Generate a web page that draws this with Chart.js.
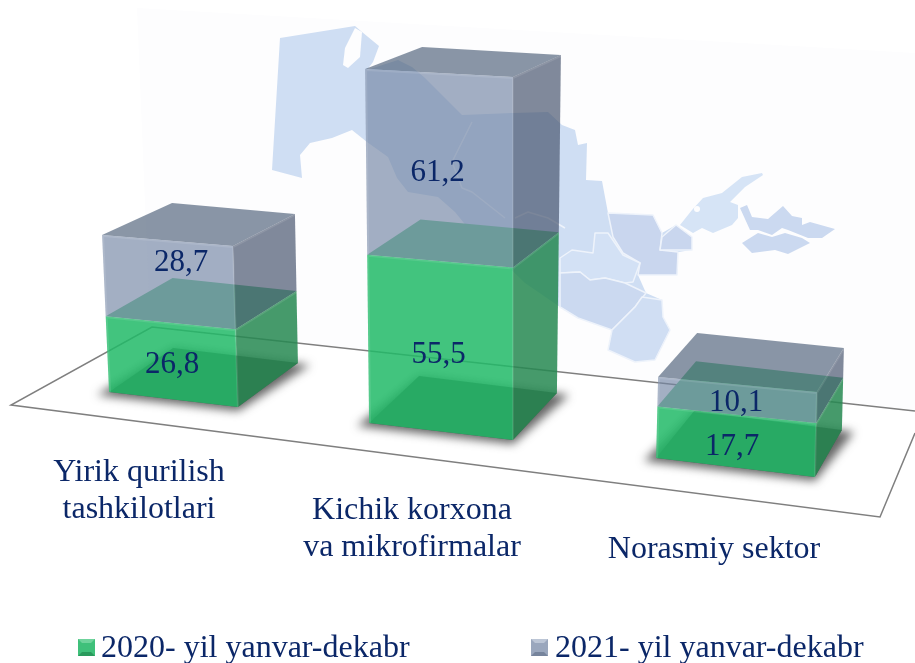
<!DOCTYPE html>
<html>
<head>
<meta charset="utf-8">
<title>Chart</title>
<script src="https://cdn.jsdelivr.net/npm/chart.js@4/dist/chart.umd.min.js"></script>
<style>
    html, body { margin: 0; padding: 0; background: #fff; }
    #wrap { position: relative; width: 915px; height: 663px; }
</style>
</head>
<body>
<div id="wrap"><canvas id="barChart"></canvas></div>
<script>
// DATA
let categories = [['Yirik qurilish', 'tashkilotlari'], ['Kichik korxona', 'va mikrofirmalar'], ['Norasmiy sektor']];
let series2020 = [26.8, 55.5, 17.7];
let series2021 = [28.7, 61.2, 10.1];
let seriesNames = ['2020- yil yanvar-dekabr', '2021- yil yanvar-dekabr'];
let valueLabels = [['26,8', '55,5', '17,7'], ['28,7', '61,2', '10,1']];

// perspective of each box, applied on top of what the scales give
let views = [
    { dx: 8.5, dy: -48, zoom: 0.896, k: 0.943, leanL: 0.042, leanR: 0.03, tilt: 15, tiltK: -0.024, depX: 60, depXk: 0.012, depXL: 64, depXLk: 0.036, depY: -44, depYk: 0.072 },
    { dx: -6, dy: -17, zoom: 1, k: 1.011, leanL: 0.0114, leanR: 0, tilt: 17, tiltK: -0.0257, depX: 44, depXk: 0.0114, depXL: 50, depXLk: 0.02, depY: -47, depYk: 0.0714 },
    { dx: 6.5, dy: 18, zoom: 1.104, k: 0.971, leanL: -0.024, leanR: -0.024, tilt: 19, tiltK: -0.048, depX: 27, depXk: 0, depXL: 38, depXLk: 0.012, depY: -47, depYk: 0.036 }
];
let labelOffsets = [[[0, 4], [-2, 9], [-4, 6]], [[12, -19], [-2, 6], [-1, 3]]];

let greenFaces = { front: 'rgba(33,186,103,0.85)', side: 'rgba(38,136,81,0.85)', top: 'rgb(98,196,138)' };
let blueFaces = { front: 'rgba(116,134,164,0.66)', side: 'rgba(63,78,103,0.66)', top: 'rgba(78,96,120,0.66)' };
let textColor = '#0b2768';
let serif = '"Liberation Serif", serif';

// background map (decoration only)
let paper = '#fdfdfe';
let mapOutline = [280,38, 355,26, 362,32, 379,46, 373,62, 367,70, 398,60, 412,67, 425,78, 462,115, 512,113, 548,112, 562,125, 575,130, 578,145, 587,143,
    586,180, 602,181, 608,213, 653,215, 658,227, 662,233, 676,225, 692,237, 692,250, 678,252, 677,275, 638,275, 646,293, 662,300, 663,317, 670,330, 655,360,
    635,362, 608,350, 612,330, 578,318, 560,307, 525,283, 468,228, 455,212, 438,197, 408,192, 397,178, 388,157, 367,142, 352,130, 332,138, 310,143, 300,155,
    302,178, 272,170];
let aralGap = [355,28, 345,48, 343,65, 348,68, 360,57, 362,32];
let mapEast = [608,213, 653,215, 662,233, 660,250, 678,252, 677,275, 638,275, 640,263, 623,253, 613,237];
let mapPocket = [662,237, 676,225, 692,237, 692,250, 660,250];
let mapJizzakh = [560,258, 572,250, 593,253, 595,233, 608,233, 623,255, 640,263, 633,282, 625,283, 605,278, 590,280, 580,272, 560,273];
let mapSouth = [560,273, 580,272, 590,280, 605,278, 625,283, 646,293, 635,307, 612,330, 578,318, 560,307];
let mapSurkhan = [642,297, 662,300, 663,317, 670,330, 655,360, 635,362, 608,350, 612,330, 635,307];
let ferganaTop = [680,225, 692,210, 703,198, 722,193, 742,177, 762,173, 763,175, 745,187, 730,202, 738,205, 738,218, 732,225, 713,233, 702,228, 693,233];
let ferganaRight = [740,208, 747,205, 752,217, 768,219, 783,206, 792,216, 802,218, 802,225, 810,222, 835,229, 822,238, 808,238, 788,230, 782,228, 772,235, 758,230, 750,230];
let ferganaLow = [742,243, 758,233, 772,237, 785,233, 802,238, 810,243, 788,254, 775,250, 752,253];
let mapLines = [
    [472,122, 452,162, 462,188, 472,192, 505,218],
    [515,218, 528,212, 548,218, 565,228]
];

function poly(ctx, pts) {
    ctx.beginPath();
    ctx.moveTo(pts[0][0], pts[0][1]);
    for (let i = 1; i < pts.length; i++) ctx.lineTo(pts[i][0], pts[i][1]);
    ctx.closePath();
}

function flat(ctx, list, close) {
    ctx.beginPath();
    ctx.moveTo(list[0], list[1]);
    for (let i = 2; i < list.length; i += 2) ctx.lineTo(list[i], list[i + 1]);
    if (close) ctx.closePath();
}

function mapPiece(ctx, list, color, edge) {
    ctx.fillStyle = color;
    flat(ctx, list, true);
    ctx.fill();
    if (edge) ctx.stroke();
}

function drawBackdrop(ctx) {
    // faint photo plane behind the map
    ctx.fillStyle = paper;
    poly(ctx, [[137, 8], [915, 53], [915, 410], [150, 326]]);
    ctx.fill();

    ctx.save();
    ctx.strokeStyle = '#eef3fb';
    ctx.lineWidth = 1.5;
    ctx.lineJoin = 'round';
    mapPiece(ctx, mapOutline, '#cfdef3', false);
    mapPiece(ctx, aralGap, paper, false);
    mapPiece(ctx, mapEast, '#c9d6ee', true);
    mapPiece(ctx, mapPocket, '#c9d6ee', true);
    mapPiece(ctx, mapJizzakh, '#d3e1f5', true);
    mapPiece(ctx, mapSouth, '#cbd9f0', true);
    mapPiece(ctx, mapSurkhan, '#d0def3', true);
    mapPiece(ctx, ferganaTop, '#d6e4f6', false);
    mapPiece(ctx, ferganaRight, '#cbd9f0', false);
    mapPiece(ctx, ferganaLow, '#cbd9f0', false);
    ctx.fillStyle = paper;
    ctx.beginPath();
    ctx.arc(697, 209, 3, 0, Math.PI * 2);
    ctx.fill();
    for (let line of mapLines) {
        flat(ctx, line, false);
        ctx.stroke();
    }
    ctx.restore();

    // floor
    ctx.strokeStyle = '#7f7f7f';
    ctx.lineWidth = 1.5;
    ctx.beginPath();
    ctx.moveTo(915, 411);
    ctx.lineTo(152, 327);
    ctx.lineTo(11, 405);
    ctx.lineTo(880, 517);
    ctx.lineTo(915, 433);
    ctx.stroke();
}

// corners of a box section at height u (pixels above the scale's zero)
function corners(el, zeroY, v, u) {
    let c = el.x + v.dx;
    let hw = el.width * v.zoom / 2;
    let y0 = zeroY + v.dy - v.k * u;
    let tilt = v.tilt + v.tiltK * u;
    let fl = [c - hw - v.leanL * u, y0];
    let fr = [c + hw - v.leanR * u, y0 + tilt];
    let dy = v.depY + v.depYk * u;
    let br = [fr[0] + v.depX + v.depXk * u, fr[1] + dy];
    let bl = [fl[0] + v.depXL + v.depXLk * u, fl[1] + dy];
    return { fl, fr, br, bl };
}

function drawBox(ctx, low, high, faces) {
    ctx.fillStyle = faces.top;
    poly(ctx, [high.fl, high.fr, high.br, high.bl]);
    ctx.fill();
    ctx.fillStyle = faces.side;
    poly(ctx, [low.fr, low.br, high.br, high.fr]);
    ctx.fill();
    ctx.fillStyle = faces.front;
    poly(ctx, [low.fl, low.fr, high.fr, high.fl]);
    ctx.fill();
    // soft highlight on the edges
    ctx.strokeStyle = 'rgba(255,255,255,0.1)';
    ctx.lineWidth = 2;
    ctx.beginPath();
    ctx.moveTo(low.fl[0] + 1, low.fl[1]);
    ctx.lineTo(high.fl[0] + 1, high.fl[1] + 1);
    ctx.lineTo(high.fr[0], high.fr[1] + 1);
    ctx.lineTo(low.fr[0], low.fr[1]);
    ctx.moveTo(high.fr[0], high.fr[1] + 1);
    ctx.lineTo(high.br[0], high.br[1] + 1);
    ctx.stroke();
}

function drawLegendBox(ctx, x, y, size, main, dark, light) {
    ctx.fillStyle = main;
    ctx.fillRect(x, y, size, size);
    ctx.fillStyle = light;
    poly(ctx, [[x, y], [x + size, y], [x + size - 4, y + 4], [x + 4, y + 4]]);
    ctx.fill();
    ctx.fillStyle = dark;
    poly(ctx, [[x, y + size], [x + size, y + size], [x + size - 4, y + size - 4], [x + 4, y + size - 4]]);
    ctx.fill();
}

let box3d = {
    id: 'box3d',
    beforeDatasetsDraw(chart) {
        let ctx = chart.ctx;
        let zeroY = chart.scales.y.getPixelForValue(0);
        let lower = chart.getDatasetMeta(0).data;
        let upper = chart.getDatasetMeta(1).data;

        ctx.save();
        drawBackdrop(ctx);

        lower.forEach((el, i) => {
            let v = views[i];
            let uMid = zeroY - el.y;
            let uTop = zeroY - upper[i].y;
            let base = corners(el, zeroY, v, 0);
            let mid = corners(el, zeroY, v, uMid);
            let top = corners(upper[i], zeroY, v, uTop);

            // shadow on the floor
            ctx.save();
            ctx.filter = 'blur(5px)';
            ctx.fillStyle = 'rgba(50,50,50,0.75)';
            poly(ctx, [
                [base.fl[0] - 12, base.fl[1] + 3],
                [base.fr[0], base.fr[1] + 4],
                [base.br[0] + 12, base.br[1] + 2],
                [base.bl[0], base.bl[1]]
            ]);
            ctx.fill();
            ctx.restore();
            ctx.fillStyle = 'rgb(85,85,85)';
            poly(ctx, [base.fl, base.fr, base.br, base.bl]);
            ctx.fill();

            drawBox(ctx, base, mid, greenFaces);
            drawBox(ctx, mid, top, blueFaces);

            // value labels centred on the front faces
            ctx.fillStyle = textColor;
            ctx.font = '31px ' + serif;
            ctx.textAlign = 'center';
            ctx.textBaseline = 'middle';
            let sections = [[base, mid], [mid, top]];
            sections.forEach((s, d) => {
                let cx = (s[0].fl[0] + s[0].fr[0] + s[1].fl[0] + s[1].fr[0]) / 4;
                let cy = (s[0].fl[1] + s[0].fr[1] + s[1].fl[1] + s[1].fr[1]) / 4;
                let off = labelOffsets[d][i];
                ctx.fillText(valueLabels[d][i], cx + off[0], cy + off[1]);
            });
        });
        ctx.restore();
        return false;
    },
    afterDraw(chart) {
        let ctx = chart.ctx;
        ctx.save();
        ctx.fillStyle = textColor;
        ctx.font = '32px ' + serif;
        ctx.textAlign = 'center';
        ctx.textBaseline = 'alphabetic';

        // category names
        let spots = [[139, 481], [412, 519], [714, 558]];
        categories.forEach((lines, i) => {
            lines.forEach((line, n) => {
                ctx.fillText(line, spots[i][0], spots[i][1] + n * 37);
            });
        });

        // legend
        drawLegendBox(ctx, 78, 639, 17, '#3fc07a', '#2a9a5c', '#6fd39c');
        drawLegendBox(ctx, 531, 639, 17, '#9aa7bd', '#76849c', '#bcc6d6');
        ctx.fillStyle = textColor;
        ctx.textAlign = 'left';
        ctx.fillText(seriesNames[0], 101, 657);
        ctx.fillText(seriesNames[1], 555, 657);
        ctx.restore();
    }
};

let barChart = new Chart(document.querySelector('#barChart'), {
    type: 'bar',
    data: {
        labels: categories,
        datasets: [
            { label: seriesNames[0], data: series2020, backgroundColor: '#3fc07a' },
            { label: seriesNames[1], data: series2021, backgroundColor: '#9aa7bd' }
        ]
    },
    options: {
        responsive: true,
        maintainAspectRatio: false,
        animation: false,
        layout: { padding: { left: 24, right: 45, top: 50, bottom: 223 } },
        datasets: { bar: { categoryPercentage: 1, barPercentage: 0.51 } },
        plugins: {
            legend: { display: false },
            tooltip: { enabled: false }
        },
        scales: {
            x: { stacked: true, display: false },
            y: { stacked: true, display: false, min: 0, max: 130 }
        }
    },
    plugins: [box3d]
});
</script>
</body>
</html>
